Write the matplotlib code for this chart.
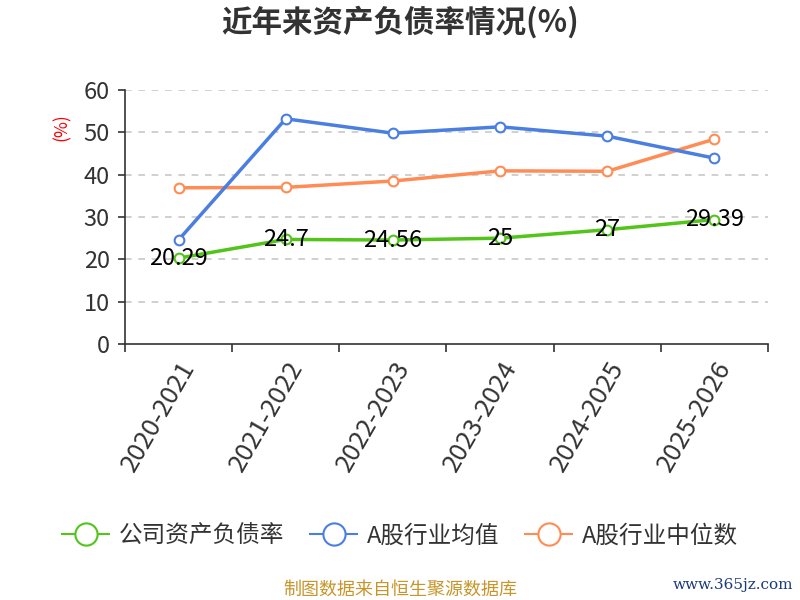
import matplotlib
matplotlib.use("Agg")
from matplotlib import pyplot as plt
from matplotlib.lines import Line2D

plt.rcParams['font.family'] = ['Noto Sans CJK SC', 'DejaVu Sans']

years = ["2020-2021", "2021-2022", "2022-2023", "2023-2024", "2024-2025", "2025-2026"]
company = [20.29, 24.7, 24.56, 25, 27, 29.39]
industry_avg = [24.6, 53.2, 49.8, 51.3, 49.1, 43.9]
industry_median = [36.9, 37.0, 38.5, 40.9, 40.8, 48.4]
company_labels = ["20.29", "24.7", "24.56", "25", "27", "29.39"]

series = [
    ("公司资产负债率", company, "#52c41a"),
    ("A股行业均值", industry_avg, "#4a7ee0"),
    ("A股行业中位数", industry_median, "#ff8c55"),
]

fig = plt.figure(figsize=(8, 6), dpi=100)
ax = fig.add_axes([125 / 800, 1 - 344 / 600, 643 / 800, 254 / 600])

x = list(range(len(years)))
# median first, then avg, company on top
for name, vals, color in [series[2], series[1], series[0]]:
    ax.plot(x, vals, color=color, lw=2.5, marker="o", ms=7,
            mfc="white", mec=color, mew=1.5, zorder=3)

for xi, v, lab in zip(x, company, company_labels):
    ax.text(xi, v, lab, ha="center", va="center", fontsize=17, color="black", zorder=4)

ax.set_xlim(-0.5, len(years) - 0.5)
ax.set_ylim(0, 60)
ax.set_yticks(range(0, 61, 10))
ax.set_xticks([i - 0.5 for i in range(len(years) + 1)])
ax.set_xticklabels([])
ax.set_xticks(x, minor=True)
ax.set_xticklabels(years, minor=True, rotation=60, ha="right", rotation_mode="anchor",
                   fontsize=18.5, color="#333333")
ax.tick_params(axis="x", which="minor", length=0, pad=9)
ax.tick_params(axis="x", which="major", length=6, width=1.2, color="#333333")
ax.tick_params(axis="y", length=5, width=1.2, color="#333333", labelsize=17,
               labelcolor="#333333", pad=6)

for yv in range(10, 61, 10):
    ax.axhline(yv, color="#c8c8c8", lw=1.2, ls=(0, (4, 4)), zorder=1)

for s in ["top", "right"]:
    ax.spines[s].set_visible(False)
for s in ["left", "bottom"]:
    ax.spines[s].set_color("#333333")
    ax.spines[s].set_linewidth(1.2)

fig.text(62 / 800, 1 - 127 / 600, "(%)", color="red", rotation=90, ha="center",
         va="center", fontsize=12.5)

fig.text(0.5, 1 - 22 / 600, "近年来资产负债率情况(%)", ha="center", va="center",
         fontsize=22, fontweight="bold", color="#333333")

handles = [Line2D([0], [0], color=c, lw=1.5, marker="o", ms=16, mfc="white", mec=c, mew=1.5)
           for _, _, c in series]
fig.legend(handles, [n for n, _, _ in series], loc="center", bbox_to_anchor=(0.5, 1 - 536 / 600),
           ncol=3, frameon=False, fontsize=17, handlelength=2.0, columnspacing=1.1,
           handletextpad=0.4, labelcolor="#333333")

fig.text(0.5, 1 - 590 / 600, "制图数据来自恒生聚源数据库", ha="center", va="center",
         fontsize=13, color="#c8952a")
fig.text(793 / 800, 1 - 585 / 600, "www.365jz.com", ha="right", va="center",
         fontsize=11, color="#1a3a7a", family="DejaVu Serif")

fig.savefig("out.png", dpi=100)
